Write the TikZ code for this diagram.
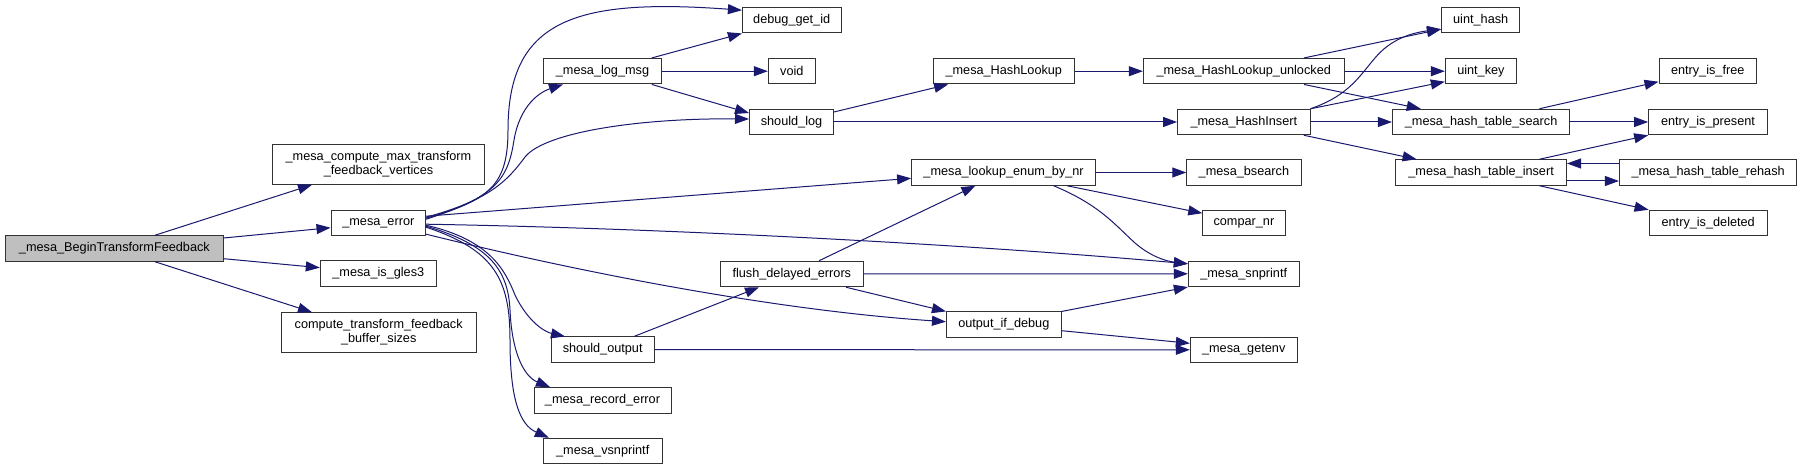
\documentclass[tikz,border=0pt]{standalone}
\usepackage{fontspec}
\setmainfont{Liberation Sans}
\usepackage{xcolor}
\usepackage{tikz}
\usetikzlibrary{arrows.meta}
\definecolor{edgeblue}{HTML}{191970}
\newcommand\fnfont{\fontsize{12.7}{14}\selectfont}

\begin{document}
\begin{tikzpicture}[x=1pt, y=1pt,
  fn/.style={draw=black!80, line width=1pt, fill=white, inner sep=0pt,
             minimum height=25.5pt, align=center, font=\fnfont},
  tall/.style={minimum height=39.6pt},
  arr/.style={-{Triangle[length=14pt,width=10pt]}, draw=edgeblue, line width=1pt}
]
\useasboundingbox (0,0) rectangle (1803,-470);
\fill[white] (0,0) rectangle (1803,-470);

%% --- Caller (left) ---
\node[fn, minimum width=217.4pt, fill=black!25] (btf) at (114.4,-248.5) {\_mesa\_BeginTransformFeedback};

%% --- Column 1 ---
\node[fn, tall, minimum width=212pt]   (cmtfv) at (378.5,-164.5) {\_mesa\_compute\_max\_transform\\\_feedback\_vertices};
\node[fn, minimum width=94.6pt]        (err)   at (378.3,-223.2) {\_mesa\_error};
\node[fn, minimum width=116pt]         (gles3) at (378.3,-273.7) {\_mesa\_is\_gles3};
\node[fn, tall, minimum width=194.7pt] (ctfbs) at (378.7,-332.5) {compute\_transform\_feedback\\\_buffer\_sizes};

%% --- Column 2 ---
\node[fn, minimum width=117.5pt] (logmsg) at (602.5,-71.2)  {\_mesa\_log\_msg};
\node[fn, minimum width=102.7pt] (shout)  at (602.7,-349.7) {should\_output};
\node[fn, minimum width=137pt]   (recerr) at (602.5,-400.3) {\_mesa\_record\_error};
\node[fn, minimum width=118.7pt] (vsnp)   at (602.7,-451)   {\_mesa\_vsnprintf};

%% --- Column 3 ---
\node[fn, minimum width=98.6pt]  (dbg)   at (791.7,-20.2) {debug\_get\_id};
\node[fn, minimum width=47pt]    (void)  at (791.8,-71.2) {void};
\node[fn, minimum width=84pt]    (shlog) at (791.5,-122)  {should\_log};
\node[fn, minimum width=142.5pt] (flush) at (791.8,-274)  {flush\_delayed\_errors};

%% --- Column 4 ---
\node[fn, minimum width=141.5pt] (hlook) at (1003.8,-71.2)  {\_mesa\_HashLookup};
\node[fn, minimum width=184pt]   (lenum) at (1003.6,-172.5) {\_mesa\_lookup\_enum\_by\_nr};
\node[fn, minimum width=114.7pt] (oidbg) at (1003.8,-324.7) {output\_if\_debug};

%% --- Column 5 ---
\node[fn, minimum width=200.7pt] (hlunl)   at (1243.7,-71.2)  {\_mesa\_HashLookup\_unlocked};
\node[fn, minimum width=132.5pt] (hins)    at (1243.8,-122)   {\_mesa\_HashInsert};
\node[fn, minimum width=114.3pt] (bsearch) at (1243.9,-172.5) {\_mesa\_bsearch};
\node[fn, minimum width=82.3pt]  (compar)  at (1243.9,-223.2) {compar\_nr};
\node[fn, minimum width=110.7pt] (snp)     at (1243.7,-273.8) {\_mesa\_snprintf};
\node[fn, minimum width=106.7pt] (getenv)  at (1243.7,-349.8) {\_mesa\_getenv};

%% --- Column 6 ---
\node[fn, minimum width=78.3pt]  (uhash) at (1480.7,-20.2)  {uint\_hash};
\node[fn, minimum width=71.2pt]  (ukey)  at (1480.9,-71.2)  {uint\_key};
\node[fn, minimum width=177.4pt] (hts)   at (1481.1,-122)   {\_mesa\_hash\_table\_search};
\node[fn, minimum width=170.8pt] (hti)   at (1481.1,-172.5) {\_mesa\_hash\_table\_insert};

%% --- Column 7 ---
\node[fn, minimum width=97.4pt]  (efree)  at (1707.7,-71.2)  {entry\_is\_free};
\node[fn, minimum width=118.7pt] (epres)  at (1708,-122)     {entry\_is\_present};
\node[fn, minimum width=177.4pt] (rehash) at (1708.1,-172.5) {\_mesa\_hash\_table\_rehash};
\node[fn, minimum width=118.3pt] (edel)   at (1708.2,-223)   {entry\_is\_deleted};

%% --- Calls from the caller ---
\draw[arr] ([xshift=40.6pt]btf.north) -- ([xshift=-66.5pt]cmtfv.south);
\draw[arr] ([yshift=10.5pt]btf.east) -- ([yshift=-4.5pt]err.west);
\draw[arr] ([yshift=-10.2pt]btf.east) -- ([yshift=6pt]gles3.west);
\draw[arr] ([xshift=40.6pt]btf.south) -- ([xshift=-66.7pt]ctfbs.north);

%% --- Calls from _mesa_error ---
\draw[arr] ([yshift=5pt]err.east) .. controls (490,-200) and (508,-185) .. (508,-130)
  .. controls (508,-20) and (575,2) .. ([yshift=10pt]dbg.west);
\draw[arr] ([yshift=4pt]err.east) .. controls (495,-197) and (508,-180) .. (514,-140)
  .. controls (520,-105) and (540,-92) .. ([xshift=-39.5pt]logmsg.south);
\draw[arr] ([yshift=6pt]err.east) .. controls (490,-200) and (508,-180) .. (525,-157)
  .. controls (545,-132) and (640,-118) .. ([yshift=3pt]shlog.west);
\draw[arr] ([yshift=7pt]err.east) -- ([yshift=-5.8pt]lenum.west);
\draw[arr] ([yshift=-1pt]err.east) .. controls (700,-229) and (1000,-247) .. ([yshift=10pt]snp.west);
\draw[arr] ([yshift=-11pt]err.east) .. controls (620,-282) and (800,-312) .. ([yshift=3pt]oidbg.west);
\draw[arr] ([yshift=-2pt]err.east) .. controls (490,-240) and (505,-270) .. (515,-295)
  .. controls (528,-322) and (545,-332) .. ([xshift=-37.7pt]shout.north);
\draw[arr] ([yshift=-3pt]err.east) .. controls (490,-245) and (508,-270) .. (510,-310)
  .. controls (512,-355) and (525,-377) .. ([xshift=-52.5pt]recerr.north);
\draw[arr] ([yshift=-4pt]err.east) .. controls (495,-250) and (510,-280) .. (510,-340)
  .. controls (510,-400) and (520,-425) .. ([xshift=6pt]vsnp.north west);

%% --- Logging path ---
\draw[arr] ([xshift=49.3pt]logmsg.north) -- (dbg.south west);
\draw[arr] (logmsg.east) -- (void.west);
\draw[arr] ([xshift=49.3pt]logmsg.south) -- ([yshift=9pt]shlog.west);
\draw[arr] ([yshift=10pt]shlog.east) -- ([xshift=15.6pt]hlook.south west);
\draw[arr] (shlog.east) -- (hins.west);
\draw[arr] (hlook.east) -- (hlunl.west);

%% --- Hash table ---
\draw[arr] ([xshift=60.3pt]hlunl.north) -- ([yshift=-9pt]uhash.west);
\draw[arr] (hlunl.east) -- (ukey.west);
\draw[arr] ([xshift=60.3pt]hlunl.south) -- ([xshift=-60.4pt]hts.north);
\draw[arr] (hins.north east) .. controls (1350,-95) and (1360,-75) .. (1375,-58)
  .. controls (1390,-40) and (1410,-33) .. ([yshift=-9pt]uhash.west);
\draw[arr] (hins.north east) -- ([yshift=-10.5pt]ukey.west);
\draw[arr] (hins.east) -- (hts.west);
\draw[arr] ([xshift=60pt]hins.south) -- ([xshift=-64.5pt]hti.north);
\draw[arr] ([xshift=58.3pt]hts.north) -- ([yshift=-10.5pt]efree.west);
\draw[arr] (hts.east) -- (epres.west);
\draw[arr] ([xshift=58.3pt]hti.north) -- (epres.south west);
\draw[arr] ([yshift=-8.5pt]hti.east) -- ([yshift=-8.5pt]rehash.west);
\draw[arr] ([yshift=9pt]rehash.west) -- ([yshift=9pt]hti.east);
\draw[arr] ([xshift=58.3pt]hti.south) -- (edel.north west);

%% --- Enum lookup and output ---
\draw[arr] (lenum.east) -- (bsearch.west);
\draw[arr] ([xshift=63.4pt]lenum.south) -- ([yshift=10pt]compar.west);
\draw[arr] ([xshift=50pt]lenum.south) .. controls (1100,-205) and (1115,-225) .. (1135,-243)
  .. controls (1150,-256) and (1165,-261) .. ([yshift=10pt]snp.west);
\draw[arr] ([xshift=27.2pt]flush.north) -- ([xshift=-28.2pt]lenum.south);
\draw[arr] (flush.east) -- (snp.west);
\draw[arr] ([xshift=54.2pt]flush.south) -- (oidbg.north west);
\draw[arr] (oidbg.north east) -- (snp.south west);
\draw[arr] ([yshift=-6pt]oidbg.east) -- ([yshift=6.5pt]getenv.west);
\draw[arr] ([xshift=31.3pt]shout.north) -- ([xshift=-32.8pt]flush.south);
\draw[arr] (shout.east) -- (getenv.west);
\end{tikzpicture}
\end{document}
